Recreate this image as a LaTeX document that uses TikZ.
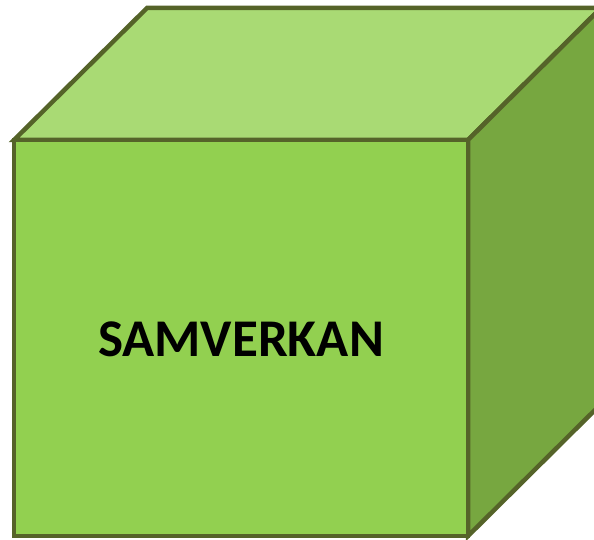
\documentclass[tikz,border=0pt]{standalone}
\usepackage{fontspec}
\setmainfont{Carlito}
\definecolor{topgreen}{HTML}{A9DA74}
\definecolor{frontgreen}{HTML}{92D050}
\definecolor{sidegreen}{HTML}{77A740}
\definecolor{edgegreen}{HTML}{556329}
\begin{document}
\begin{tikzpicture}[x=1pt,y=-1pt]
\tikzset{face/.style={draw=edgegreen, line width=4.5pt, line join=miter}}
\useasboundingbox (0,0) rectangle (594,540);
\clip (0,0) rectangle (594,540);
%\draw[step=50pt,gray,very thin] (0,0) grid (594,540);
\filldraw[face, fill=topgreen] (14,140) -- ++(133,-132) -- ++(454,0) -- (468,140) -- cycle;
\filldraw[face, fill=sidegreen] (468,140) -- ++(133,-132) -- ++(0,396) -- (468,536) -- cycle;
\filldraw[face, fill=frontgreen] (14,140) rectangle (468,536);
\node[font=\bfseries\fontsize{53}{53}\selectfont] (samverkan) at (241,339) {SAMVERKAN};
\end{tikzpicture}
\end{document}
